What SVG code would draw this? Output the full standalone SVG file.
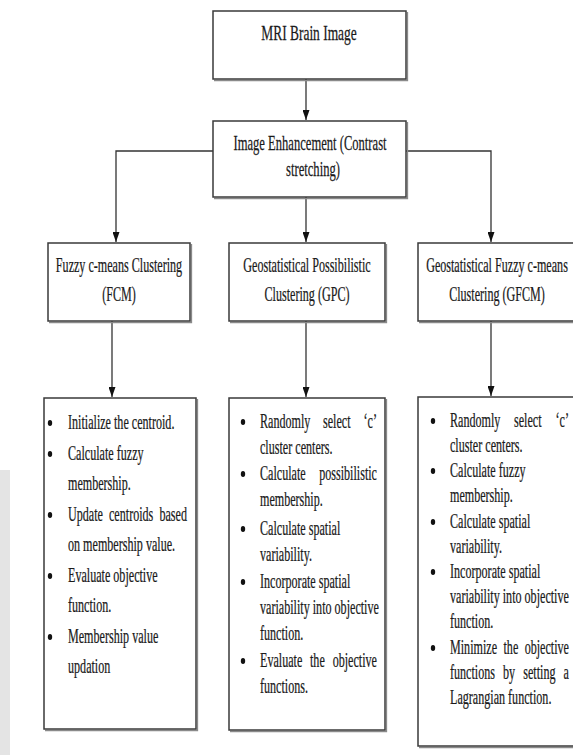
<svg xmlns="http://www.w3.org/2000/svg" width="573" height="755" viewBox="0 0 573 755">
<style>
.box{fill:#fff;stroke:#3a3a3a;stroke-width:1.5}
.sh{fill:none;stroke:#8a8a8a;stroke-width:1.3}
.t{font-family:"Liberation Serif","Times New Roman",serif;font-size:20.5px;fill:#1a1a1a;stroke:#1a1a1a;stroke-width:0.25}
.big{font-size:21px}
.c{text-anchor:middle}
.e{text-anchor:end}
.b{fill:#111}
.conn path{fill:none;stroke:#333;stroke-width:1.3}
.wm{fill:#e4e4e4}
</style>
<defs>
<marker id="arr" viewBox="0 0 10 7" markerWidth="10" markerHeight="7" refX="10" refY="3.5" orient="auto" markerUnits="userSpaceOnUse">
<path d="M0,0 L10,3.5 L0,7 z" fill="#111"/>
</marker>
</defs>
<rect width="573" height="755" fill="#fff"/>
<g id="watermark">
<rect class="wm" x="0" y="470" width="10" height="285"/>
</g>
<g class="conn">
<path d="M306,79 V120" marker-end="url(#arr)"/>
<path d="M213,151 H116 V242" marker-end="url(#arr)"/>
<path d="M406,151 H491 V242" marker-end="url(#arr)"/>
<path d="M306,197 V242" marker-end="url(#arr)"/>
<path d="M112,321 V397" marker-end="url(#arr)"/>
<path d="M306,321 V397" marker-end="url(#arr)"/>
<path d="M491,321 V396" marker-end="url(#arr)"/>
</g>
<g id="mri">
<path class="sh" d="M214,80.5 H407.5 V12"/>
<rect class="box" x="213" y="11" width="193" height="68"/>
<text class="t big c" transform="translate(309,40) scale(0.64,1)">MRI Brain Image</text>
</g>
<g id="enhance">
<path class="sh" d="M214,198.5 H407.5 V122"/>
<rect class="box" x="213" y="121" width="193" height="76"/>
<text class="t big c" transform="translate(310,150) scale(0.6,1)">Image Enhancement (Contrast</text>
<text class="t big c" transform="translate(313,176) scale(0.6,1)">stretching)</text>
</g>
<g id="fcm">
<path class="sh" d="M49,322.5 H191.5 V244"/>
<rect class="box" x="48" y="243" width="142" height="78"/>
<text class="t c" transform="translate(119,272) scale(0.59,1)">Fuzzy c-means Clustering</text>
<text class="t c" transform="translate(119,301) scale(0.59,1)">(FCM)</text>
</g>
<g id="gpc">
<path class="sh" d="M230,322.5 H386.5 V244"/>
<rect class="box" x="229" y="243" width="156" height="78"/>
<text class="t c" transform="translate(307,272) scale(0.59,1)">Geostatistical Possibilistic</text>
<text class="t c" transform="translate(307,301) scale(0.59,1)">Clustering (GPC)</text>
</g>
<g id="gfcm">
<path class="sh" d="M419,322.5 H577"/>
<rect class="box" x="418" y="243" width="158" height="78"/>
<text class="t c" transform="translate(497,272) scale(0.59,1)">Geostatistical Fuzzy c-means</text>
<text class="t c" transform="translate(497,301) scale(0.59,1)">Clustering (GFCM)</text>
</g>
<g id="fcm-steps">
<path class="sh" d="M45,730.5 H197.5 V399"/>
<rect class="box" x="44" y="398" width="152" height="331"/>
<ellipse class="b" cx="50" cy="423" rx="2.2" ry="3"/>
<text class="t" transform="translate(68,429) scale(0.59,1)">Initialize the centroid.</text>
<ellipse class="b" cx="50" cy="454" rx="2.2" ry="3"/>
<text class="t" transform="translate(68,460) scale(0.59,1)">Calculate fuzzy</text>
<text class="t" transform="translate(68,490) scale(0.59,1)">membership.</text>
<ellipse class="b" cx="50" cy="515" rx="2.2" ry="3"/>
<text class="t" transform="translate(68,521) scale(0.59,1)">Update</text>
<text class="t" transform="translate(109,521) scale(0.59,1)">centroids</text>
<text class="t e" transform="translate(187,521) scale(0.59,1)">based</text>
<text class="t" transform="translate(68,551) scale(0.59,1)">on membership value.</text>
<ellipse class="b" cx="50" cy="576" rx="2.2" ry="3"/>
<text class="t" transform="translate(68,582) scale(0.59,1)">Evaluate objective</text>
<text class="t" transform="translate(68,612) scale(0.59,1)">function.</text>
<ellipse class="b" cx="50" cy="637" rx="2.2" ry="3"/>
<text class="t" transform="translate(68,643) scale(0.59,1)">Membership value</text>
<text class="t" transform="translate(68,673) scale(0.59,1)">updation</text>
</g>
<g id="gpc-steps">
<path class="sh" d="M230,731.5 H386.5 V399"/>
<rect class="box" x="229" y="398" width="156" height="332"/>
<ellipse class="b" cx="243" cy="422" rx="2.2" ry="3"/>
<text class="t" transform="translate(260,428) scale(0.59,1)">Randomly</text>
<text class="t" transform="translate(323,428) scale(0.59,1)">select</text>
<text class="t e" transform="translate(377,428) scale(0.59,1)">‘c’</text>
<text class="t" transform="translate(260,454) scale(0.59,1)">cluster centers.</text>
<ellipse class="b" cx="243" cy="474" rx="2.2" ry="3"/>
<text class="t" transform="translate(260,480) scale(0.59,1)">Calculate</text>
<text class="t e" transform="translate(377,480) scale(0.59,1)">possibilistic</text>
<text class="t" transform="translate(260,506) scale(0.59,1)">membership.</text>
<ellipse class="b" cx="243" cy="529" rx="2.2" ry="3"/>
<text class="t" transform="translate(260,535) scale(0.59,1)">Calculate spatial</text>
<text class="t" transform="translate(260,561) scale(0.59,1)">variability.</text>
<ellipse class="b" cx="243" cy="582" rx="2.2" ry="3"/>
<text class="t" transform="translate(260,588) scale(0.59,1)">Incorporate spatial</text>
<text class="t" transform="translate(260,614) scale(0.59,1)">variability into objective</text>
<text class="t" transform="translate(260,640) scale(0.59,1)">function.</text>
<ellipse class="b" cx="243" cy="661" rx="2.2" ry="3"/>
<text class="t" transform="translate(260,667) scale(0.59,1)">Evaluate</text>
<text class="t" transform="translate(310,667) scale(0.59,1)">the</text>
<text class="t e" transform="translate(377,667) scale(0.59,1)">objective</text>
<text class="t" transform="translate(260,693) scale(0.59,1)">functions.</text>
</g>
<g id="gfcm-steps">
<path class="sh" d="M419,747.5 H577"/>
<rect class="box" x="418" y="397" width="158" height="349"/>
<ellipse class="b" cx="433" cy="421" rx="2.2" ry="3"/>
<text class="t" transform="translate(450,427) scale(0.59,1)">Randomly</text>
<text class="t" transform="translate(514,427) scale(0.59,1)">select</text>
<text class="t e" transform="translate(569,427) scale(0.59,1)">‘c’</text>
<text class="t" transform="translate(450,452) scale(0.59,1)">cluster centers.</text>
<ellipse class="b" cx="433" cy="471" rx="2.2" ry="3"/>
<text class="t" transform="translate(450,477) scale(0.59,1)">Calculate fuzzy</text>
<text class="t" transform="translate(450,502) scale(0.59,1)">membership.</text>
<ellipse class="b" cx="433" cy="522" rx="2.2" ry="3"/>
<text class="t" transform="translate(450,528) scale(0.59,1)">Calculate spatial</text>
<text class="t" transform="translate(450,553) scale(0.59,1)">variability.</text>
<ellipse class="b" cx="433" cy="572" rx="2.2" ry="3"/>
<text class="t" transform="translate(450,578) scale(0.59,1)">Incorporate spatial</text>
<text class="t" transform="translate(450,603) scale(0.59,1)">variability into objective</text>
<text class="t" transform="translate(450,628) scale(0.59,1)">function.</text>
<ellipse class="b" cx="433" cy="648" rx="2.2" ry="3"/>
<text class="t" transform="translate(450,654) scale(0.59,1)">Minimize</text>
<text class="t" transform="translate(503.5,654) scale(0.59,1)">the</text>
<text class="t e" transform="translate(569,654) scale(0.59,1)">objective</text>
<text class="t" transform="translate(450,679) scale(0.59,1)">functions</text>
<text class="t" transform="translate(503,679) scale(0.59,1)">by</text>
<text class="t" transform="translate(523.3,679) scale(0.59,1)">setting</text>
<text class="t e" transform="translate(569,679) scale(0.59,1)">a</text>
<text class="t" transform="translate(450,704) scale(0.59,1)">Lagrangian function.</text>
</g>
</svg>
